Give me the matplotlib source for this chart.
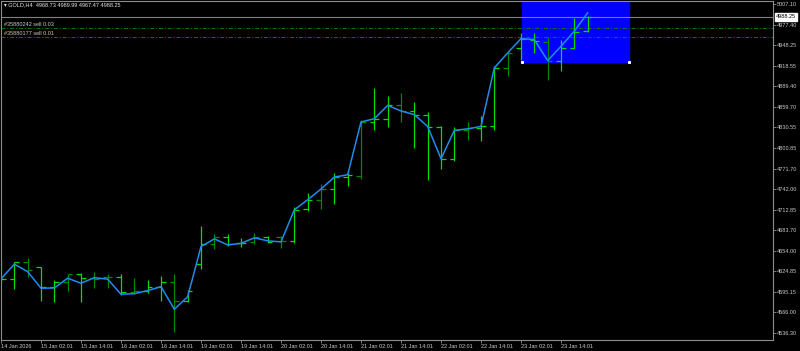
import numpy as np
import matplotlib
matplotlib.use("Agg")
import matplotlib.pyplot as plt
import matplotlib.transforms as mtransforms
from matplotlib.patches import Rectangle

plt.rcParams['font.family'] = ['Liberation Sans', 'DejaVu Sans']

# GOLD H4 bars
opens = [4609.7, 4614.0, 4637.9, 4630.8, 4603.0, 4609.3, 4620.7, 4615.0, 4617.3, 4616.4,
         4595.8, 4597.3, 4602.1, 4609.3, 4582.9, 4635.0, 4664.1, 4673.7, 4665.1, 4667.4,
         4674.5, 4674.5, 4668.8, 4713.7, 4727.1, 4742.4, 4759.5, 4760.4, 4838.2, 4842.9,
         4862.0, 4853.4, 4847.7, 4830.5, 4785.7, 4827.2, 4829.7, 4831.9, 4915.5, 4944.1,
         4956.0, 4952.7, 4924.9, 4944.1, 4968.73]
highs = [4641.2, 4638.7, 4643.6, 4631.6, 4612.5, 4620.7, 4621.9, 4624.4, 4620.7, 4620.7,
         4615.8, 4612.5, 4618.3, 4620.7, 4598.2, 4689.8, 4678.4, 4677.9, 4672.2, 4680.2,
         4675.9, 4675.9, 4716.6, 4736.6, 4749.9, 4765.2, 4765.2, 4841.5, 4886.9, 4875.9,
         4879.7, 4866.9, 4853.0, 4831.9, 4831.5, 4837.7, 4846.2, 4917.8, 4939.3, 4965.6,
         4965.6, 4959.9, 4955.0, 4987.1, 4989.99]
lows = [4606.4, 4599.2, 4617.3, 4582.9, 4580.6, 4597.3, 4581.5, 4600.7, 4600.7, 4591.1,
        4592.1, 4593.5, 4582.5, 4537.5, 4581.5, 4628.3, 4656.9, 4661.6, 4660.2, 4663.6,
        4665.1, 4658.8, 4665.1, 4711.7, 4714.2, 4721.4, 4746.1, 4756.7, 4826.2, 4831.1,
        4837.7, 4801.4, 4755.7, 4771.0, 4782.9, 4812.9, 4811.5, 4827.2, 4904.5, 4927.4,
        4937.0, 4897.8, 4910.6, 4942.7, 4967.47]
closes = [4614.0, 4637.9, 4626.9, 4603.0, 4609.3, 4620.7, 4615.0, 4614.5, 4616.4, 4595.8,
          4597.3, 4602.1, 4609.3, 4582.9, 4596.8, 4664.1, 4674.5, 4663.6, 4665.9, 4674.5,
          4667.4, 4668.8, 4712.7, 4727.1, 4742.4, 4759.5, 4762.8, 4838.2, 4842.9, 4862.0,
          4853.4, 4848.7, 4830.5, 4785.7, 4826.2, 4829.7, 4831.9, 4915.5, 4937.0, 4957.4,
          4953.6, 4924.9, 4944.1, 4967.0, 4988.25]
# blue line overlay
line_vals = [4614.0, 4635.0, 4624.4, 4600.7, 4601.1, 4615.0, 4607.8, 4615.8, 4613.6, 4592.1,
             4592.9, 4597.3, 4603.0, 4570.6, 4588.6, 4660.2, 4671.2, 4662.6, 4664.8, 4672.7,
             4668.4, 4666.9, 4712.7, 4727.1, 4742.4, 4759.5, 4762.8, 4838.2, 4842.9, 4861.9,
             4854.0, 4848.7, 4831.9, 4785.7, 4826.2, 4828.4, 4831.9, 4915.5, 4937.0, 4957.4,
             4956.0, 4925.9, 4946.4, 4967.9, 4994.2]

date_labels = ["14 Jan 2026", "15 Jan 02:01", "15 Jan 14:01", "16 Jan 02:01", "16 Jan 14:01",
               "19 Jan 02:01", "19 Jan 14:01", "20 Jan 02:01", "20 Jan 14:01", "21 Jan 02:01",
               "21 Jan 14:01", "22 Jan 02:01", "22 Jan 14:01", "23 Jan 02:01", "23 Jan 14:01"]
price_ticks = [5007.10, 4977.40, 4948.25, 4918.55, 4889.40, 4859.70, 4830.55, 4800.85,
               4771.70, 4742.00, 4712.85, 4683.70, 4654.00, 4624.85, 4595.15, 4566.00, 4536.30]

order_labels = ["#35880242 sell 0.03", "#35880177 sell 0.01"]
order_prices = [4972.5, 4959.5]
bid = 4988.25
header = "GOLD,H4  4968.73 4989.99 4967.47 4988.25"

# blue rectangle object (bar index / price)
rect_x0, rect_x1 = 39.1, 47.1
rect_low = 4923.5

n = len(opens)
x = np.arange(n)
# bars that come out dimmer in the screenshot
dim = {2, 5, 7, 8, 10, 13, 16, 19, 21, 24, 27, 30, 35, 38, 41}
cols = ['#008a00' if i in dim else '#00dd00' for i in range(n)]

fs = 4.0
txt = '#c8c8c8'
frame = '#8c8c8c'

fig = plt.figure(figsize=(8, 3.51), dpi=100, facecolor='black')
ax = fig.add_axes([0.5 / 800, 11 / 351, 772.5 / 800, 339.5 / 351], facecolor='black')

ax.set_xlim(-0.0375, 57.9)
ax.set_ylim(4526.7, 5011.8)

ax.add_patch(Rectangle((rect_x0, rect_low), rect_x1 - rect_x0, 200, color='#0000ff', zorder=1))
ax.plot([rect_x0, rect_x1], [rect_low, rect_low], 's', color='white', ms=1.2, zorder=6)

ax.axhline(bid, color='#808080', lw=0.8, zorder=2)
trans = mtransforms.blended_transform_factory(ax.transAxes, ax.transData)
for lab, p in zip(order_labels, order_prices):
    l, = ax.plot([0, 1], [p, p], transform=trans, color='#0a7a0a', lw=0.7, zorder=2)
    l.set_dashes([4, 2, 1, 2])
    ax.text(0.005, p + 1.2, lab, transform=trans, fontsize=fs, color=txt, va='bottom', ha='left')

w = 0.36
ax.vlines(x, lows, highs, colors=cols, lw=0.9, zorder=3)
ax.hlines(opens, x - w, x, colors=cols, lw=0.9, zorder=3)
ax.hlines(closes, x, x + w, colors=cols, lw=0.9, zorder=3)

ax.plot(x, line_vals, color='#1e8cf0', lw=1.1, zorder=4)

for s in ax.spines.values():
    s.set_color(frame)
    s.set_linewidth(0.8)

ax.yaxis.tick_right()
ax.set_yticks(price_ticks)
ax.set_yticklabels([f"{v:.2f}" for v in price_ticks])
ax.set_xticks(range(0, n, 3))
ax.set_xticklabels(date_labels, ha='left')
ax.tick_params(axis='both', length=2, width=0.6, color=frame, labelsize=fs, labelcolor=txt, pad=1)

ax.text(1.004, bid, "4988.25", transform=trans, fontsize=fs, color='black', ha='left', va='center',
        bbox=dict(boxstyle='square,pad=0.25', fc='white', ec='white'), zorder=7, clip_on=False)

fig.text(4 / 800, 1 - 5 / 351, "\u25be " + header, fontsize=fs, color='#e6e6e6', va='center', ha='left')

fig.savefig("out.png", dpi=100, facecolor='black')
